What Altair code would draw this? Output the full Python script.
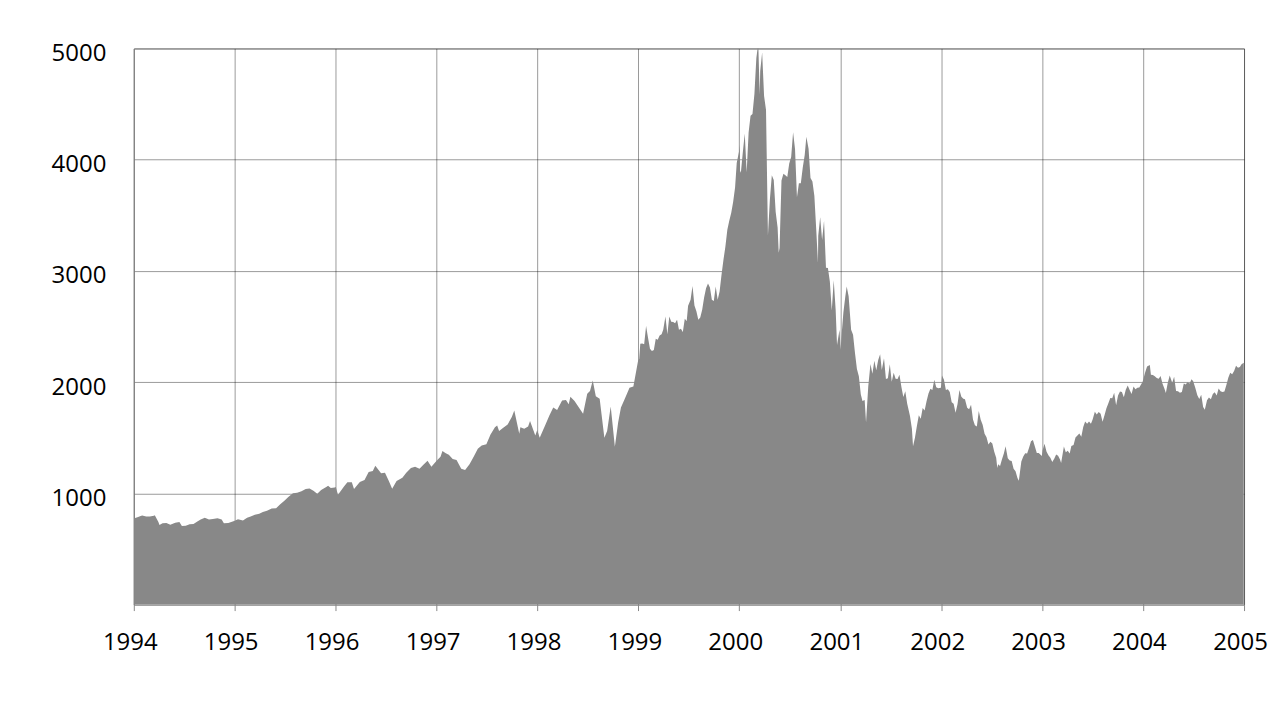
import altair as alt
import pandas as pd

# NASDAQ Composite, approx. weekly/semi-monthly closes
y1994 = [("01-03", 776), ("01-14", 785), ("01-31", 800), ("02-15", 792), ("02-28", 793),
         ("03-15", 798), ("03-18", 803), ("03-31", 743), ("04-04", 716), ("04-15", 732),
         ("04-29", 733), ("05-13", 718), ("05-31", 735), ("06-15", 742), ("06-24", 706),
         ("07-08", 709), ("07-22", 722), ("08-05", 725), ("08-19", 748), ("08-31", 765),
         ("09-15", 780), ("09-30", 764), ("10-14", 770), ("10-31", 777), ("11-15", 765),
         ("11-23", 731), ("12-09", 733), ("12-30", 752)]
y1995 = [("01-13", 768), ("01-31", 755), ("02-15", 781), ("02-28", 793), ("03-15", 807),
         ("03-31", 817), ("04-13", 833), ("04-28", 843), ("05-15", 864), ("05-31", 865),
         ("06-15", 903), ("06-30", 933), ("07-14", 968), ("07-31", 1001), ("08-15", 1005),
         ("08-31", 1020), ("09-15", 1039), ("09-29", 1044), ("10-13", 1023), ("10-27", 996),
         ("11-10", 1030), ("11-30", 1059), ("12-05", 1068), ("12-15", 1049), ("12-29", 1052)]
y1996 = [("01-02", 1058), ("01-10", 988), ("01-31", 1060), ("02-13", 1100), ("02-29", 1100),
         ("03-08", 1040), ("03-29", 1101), ("04-15", 1120), ("04-30", 1191), ("05-15", 1200),
         ("05-24", 1249), ("06-14", 1180), ("06-28", 1185), ("07-12", 1110), ("07-24", 1042),
         ("08-09", 1110), ("08-30", 1141), ("09-13", 1185), ("09-30", 1227), ("10-15", 1240),
         ("10-31", 1222), ("11-15", 1260), ("11-29", 1293), ("12-13", 1240), ("12-31", 1291)]
y1997 = [("01-15", 1330), ("01-22", 1380), ("02-03", 1360), ("02-14", 1346), ("02-28", 1309),
         ("03-14", 1300), ("03-31", 1222), ("04-14", 1210), ("04-30", 1261), ("05-15", 1330),
         ("05-30", 1400), ("06-13", 1430), ("06-30", 1442), ("07-15", 1530), ("07-31", 1594),
         ("08-08", 1610), ("08-15", 1560), ("08-29", 1587), ("09-15", 1620), ("09-30", 1686),
         ("10-09", 1745), ("10-27", 1535), ("10-31", 1594), ("11-14", 1580), ("11-28", 1601),
         ("12-05", 1650), ("12-24", 1520), ("12-31", 1570)]
y1998 = [("01-09", 1500), ("01-30", 1619), ("02-13", 1700), ("02-27", 1771), ("03-13", 1750),
         ("03-31", 1835), ("04-14", 1840), ("04-24", 1800), ("04-30", 1868), ("05-15", 1830),
         ("05-29", 1779), ("06-15", 1715), ("06-30", 1895), ("07-10", 1920), ("07-20", 2014),
         ("07-31", 1872), ("08-14", 1850), ("08-31", 1499), ("09-10", 1560), ("09-23", 1780),
         ("10-08", 1419), ("10-20", 1640), ("10-30", 1771), ("11-13", 1850), ("11-30", 1950),
         ("12-14", 1960), ("12-31", 2193)]
y1999 = [("01-04", 2208), ("01-08", 2344), ("01-15", 2348), ("01-22", 2340), ("01-29", 2505),
         ("02-05", 2400), ("02-12", 2300), ("02-19", 2280), ("02-26", 2288), ("03-05", 2390),
         ("03-12", 2380), ("03-19", 2420), ("03-26", 2430), ("04-01", 2470), ("04-09", 2590),
         ("04-16", 2430), ("04-23", 2590), ("04-30", 2542), ("05-07", 2540), ("05-14", 2530),
         ("05-21", 2560), ("05-28", 2471), ("06-04", 2480), ("06-11", 2450), ("06-18", 2570),
         ("06-25", 2550), ("06-30", 2686), ("07-09", 2740), ("07-16", 2864), ("07-23", 2690),
         ("07-30", 2638), ("08-06", 2560), ("08-13", 2580), ("08-20", 2650), ("08-27", 2760),
         ("09-03", 2843), ("09-10", 2887), ("09-17", 2850), ("09-24", 2740), ("10-01", 2730),
         ("10-08", 2860), ("10-15", 2740), ("10-22", 2815), ("10-29", 2966), ("11-05", 3100),
         ("11-12", 3220), ("11-19", 3370), ("11-26", 3450), ("12-03", 3520), ("12-10", 3620),
         ("12-17", 3750), ("12-23", 3970), ("12-31", 4069)]
y2000 = [("01-03", 4131), ("01-04", 3901), ("01-07", 3882), ("01-14", 4064), ("01-21", 4235),
         ("01-28", 3887), ("02-04", 4244), ("02-11", 4395), ("02-18", 4411), ("02-25", 4590),
         ("03-03", 4914), ("03-10", 5048), ("03-15", 4583), ("03-17", 4798), ("03-24", 4963),
         ("03-31", 4573), ("04-07", 4446), ("04-14", 3321), ("04-21", 3643), ("04-28", 3860),
         ("05-05", 3817), ("05-12", 3529), ("05-19", 3390), ("05-23", 3164), ("05-26", 3205),
         ("06-02", 3813), ("06-09", 3874), ("06-16", 3860), ("06-23", 3845), ("06-30", 3966),
         ("07-07", 4023), ("07-14", 4246), ("07-21", 4095), ("07-28", 3663), ("08-04", 3787),
         ("08-11", 3789), ("08-18", 3930), ("08-25", 4042), ("08-31", 4206), ("09-08", 4098),
         ("09-15", 3835), ("09-22", 3803), ("09-29", 3673), ("10-06", 3361), ("10-12", 3074),
         ("10-13", 3316), ("10-20", 3483), ("10-27", 3278), ("11-03", 3451), ("11-10", 3028),
         ("11-17", 3027), ("11-24", 2904), ("12-01", 2645), ("12-08", 2917), ("12-15", 2653),
         ("12-20", 2333), ("12-29", 2471)]
y2001 = [("01-02", 2291), ("01-05", 2407), ("01-12", 2626), ("01-19", 2770), ("01-24", 2859),
         ("01-31", 2773), ("02-09", 2470), ("02-16", 2425), ("02-23", 2262), ("03-02", 2117),
         ("03-09", 2052), ("03-16", 1891), ("03-22", 1830), ("03-30", 1840), ("04-04", 1638),
         ("04-12", 1961), ("04-20", 2163), ("04-27", 2075), ("05-04", 2192), ("05-11", 2107),
         ("05-18", 2198), ("05-25", 2250), ("05-31", 2110), ("06-08", 2215), ("06-15", 2028),
         ("06-22", 2034), ("06-29", 2161), ("07-06", 2004), ("07-13", 2084), ("07-20", 2030),
         ("07-27", 2029), ("08-03", 2066), ("08-10", 1956), ("08-17", 1867), ("08-24", 1917),
         ("08-31", 1805), ("09-10", 1695), ("09-17", 1580), ("09-21", 1423), ("09-28", 1499),
         ("10-05", 1605), ("10-12", 1703), ("10-19", 1671), ("10-26", 1768), ("11-02", 1745),
         ("11-09", 1828), ("11-16", 1898), ("11-23", 1941), ("11-30", 1930), ("12-07", 2021),
         ("12-14", 1953), ("12-21", 1945), ("12-31", 1950)]
y2002 = [("01-04", 2059), ("01-11", 2022), ("01-18", 1930), ("01-25", 1937), ("02-01", 1911),
         ("02-08", 1818), ("02-15", 1805), ("02-22", 1724), ("03-01", 1802), ("03-08", 1929),
         ("03-15", 1868), ("03-22", 1851), ("03-28", 1845), ("04-05", 1770), ("04-12", 1756),
         ("04-19", 1796), ("04-26", 1663), ("05-03", 1613), ("05-10", 1600), ("05-17", 1741),
         ("05-24", 1661), ("05-31", 1616), ("06-07", 1535), ("06-14", 1504), ("06-21", 1440),
         ("06-28", 1463), ("07-05", 1448), ("07-12", 1373), ("07-19", 1319), ("07-23", 1229),
         ("07-26", 1262), ("08-02", 1247), ("08-09", 1306), ("08-16", 1361), ("08-22", 1423),
         ("08-30", 1315), ("09-06", 1295), ("09-13", 1291), ("09-20", 1221), ("09-27", 1199),
         ("10-04", 1139), ("10-09", 1114), ("10-18", 1287), ("10-25", 1331), ("11-01", 1360),
         ("11-08", 1359), ("11-15", 1411), ("11-22", 1468), ("11-29", 1479), ("12-06", 1422),
         ("12-13", 1363), ("12-20", 1363), ("12-31", 1336)]
y2003 = [("01-03", 1387), ("01-10", 1447), ("01-17", 1376), ("01-24", 1342), ("01-31", 1321),
         ("02-07", 1282), ("02-14", 1310), ("02-21", 1349), ("02-28", 1337), ("03-07", 1305),
         ("03-11", 1272), ("03-21", 1421), ("03-28", 1369), ("04-04", 1383), ("04-11", 1358),
         ("04-17", 1425), ("04-25", 1434), ("05-02", 1502), ("05-09", 1520), ("05-16", 1538),
         ("05-23", 1510), ("05-30", 1596), ("06-06", 1646), ("06-13", 1626), ("06-20", 1645),
         ("06-27", 1625), ("07-03", 1664), ("07-11", 1733), ("07-18", 1708), ("07-25", 1731),
         ("08-01", 1715), ("08-08", 1644), ("08-15", 1702), ("08-22", 1765), ("08-29", 1810),
         ("09-05", 1858), ("09-12", 1855), ("09-19", 1905), ("09-26", 1793), ("10-03", 1880),
         ("10-10", 1915), ("10-17", 1912), ("10-24", 1865), ("10-31", 1932), ("11-07", 1970),
         ("11-14", 1930), ("11-21", 1893), ("11-28", 1960), ("12-05", 1937), ("12-12", 1949),
         ("12-19", 1951), ("12-31", 2003)]
y2004 = [("01-09", 2087), ("01-16", 2140), ("01-26", 2153), ("01-30", 2066), ("02-06", 2064),
         ("02-13", 2053), ("02-20", 2037), ("02-27", 2030), ("03-05", 2055), ("03-12", 1985),
         ("03-19", 1940), ("03-24", 1902), ("03-31", 1994), ("04-07", 2060), ("04-16", 1995),
         ("04-23", 2049), ("04-30", 1920), ("05-07", 1917), ("05-14", 1904), ("05-21", 1912),
         ("05-28", 1987), ("06-04", 1978), ("06-10", 1999), ("06-18", 1987), ("06-25", 2026),
         ("07-01", 2007), ("07-09", 1946), ("07-16", 1883), ("07-23", 1849), ("07-30", 1887),
         ("08-06", 1777), ("08-12", 1752), ("08-20", 1838), ("08-27", 1862), ("09-03", 1845),
         ("09-10", 1894), ("09-17", 1910), ("09-24", 1880), ("10-01", 1942), ("10-08", 1919),
         ("10-15", 1911), ("10-22", 1915), ("10-29", 1975), ("11-05", 2039), ("11-12", 2085),
         ("11-19", 2070), ("11-26", 2101), ("12-03", 2147), ("12-10", 2129), ("12-17", 2135),
         ("12-23", 2160), ("12-31", 2175)]

years = {1994: y1994, 1995: y1995, 1996: y1996, 1997: y1997, 1998: y1998, 1999: y1999,
         2000: y2000, 2001: y2001, 2002: y2002, 2003: y2003, 2004: y2004}
y_ticks = [1000, 2000, 3000, 4000, 5000]
x_years = list(range(1994, 2006))

rows = [{"date": f"{yr}-{md}", "value": v} for yr, pts in years.items() for md, v in pts]
df = pd.DataFrame(rows)

font = "Open Sans"

chart = alt.Chart(df).mark_area(color="#888888", interpolate="linear", clip=True).encode(
    x=alt.X("date:T",
            scale=alt.Scale(type="utc",
                            domain=[alt.DateTime(year=1994, month=1, date=1, utc=True),
                                    alt.DateTime(year=2005, month=1, date=1, utc=True)]),
            axis=alt.Axis(values=[alt.DateTime(year=y, month=1, date=1, utc=True) for y in x_years],
                          format="%Y", title=None, tickSize=6, labelPadding=20, labelOffset=-4,
                          labelOverlap=False, labelBound=False, labelFlush=False)),
    y=alt.Y("value:Q",
            scale=alt.Scale(domain=[0, 5000], nice=False),
            axis=alt.Axis(values=y_ticks, format="d", title=None, ticks=False, labelPadding=28,
                          labelOffset=5, labelBound=False, labelFlush=False)),
).properties(
    width=1112, height=557,
    autosize=alt.AutoSizeParams(type="none"),
    padding={"left": 126, "top": 40, "right": 28, "bottom": 60},
).configure_axis(
    labelFont=font, labelFontSize=24, labelColor="#000",
    gridColor="#000", gridOpacity=0.4, gridWidth=1,
    domainColor="#888", tickColor="#888", zindex=1,
).configure_view(
    stroke="#999", strokeWidth=1,
)

chart.save("out.html", embed_options={"renderer": "svg", "actions": False})
